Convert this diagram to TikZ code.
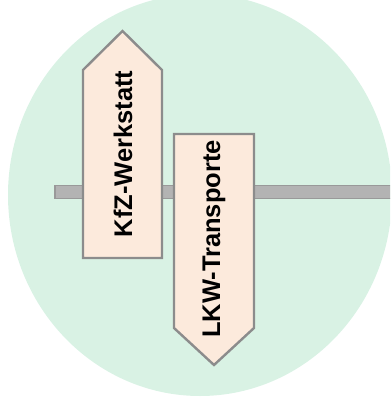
\documentclass[tikz,border=0pt]{standalone}
\usepackage{fontspec}
\setmainfont{Liberation Sans}
\definecolor{zonefill}{HTML}{D9F2E4}
\definecolor{barfill}{HTML}{B3B3B3}
\definecolor{barline}{HTML}{999999}
\definecolor{signfill}{HTML}{FCEADC}
\definecolor{signline}{HTML}{8C8C8C}
\tikzset{
  zone/.style={fill=zonefill, draw=none},
  rail/.style={fill=barfill, draw=barline, line width=1.2pt},
  sign/.style={fill=signfill, draw=signline, line width=2.4pt, line join=miter},
  signtext/.style={rotate=90, inner sep=0pt, font=\bfseries\fontsize{25.5}{29}\selectfont, text=black}
}
\begin{document}
\begin{tikzpicture}[x=1pt, y=-1pt]
  \useasboundingbox (0,0) rectangle (390,398);
  \clip (0,0) rectangle (390,398);
  % background zone
  \fill[zone] (200,195) ellipse [x radius=192, y radius=201];
  % horizontal rail
  \draw[rail] (55,185.5) rectangle (395,198.5);
  % sign pointing up
  \draw[sign] (83,258) -- (83,70) -- (122.5,31) -- (162,70) -- (162,258) -- cycle;
  \node[signtext] (kfz) at (123,154) {KfZ-Werkstatt};
  % sign pointing down
  \draw[sign] (174,134) -- (254,134) -- (254,328) -- (214,365) -- (174,328) -- cycle;
  \node[signtext] (lkw) at (214,239) {LKW-Transporte};
  % glyph fragment at the lower edge
  \draw[line width=3pt] (85,404) arc[start angle=180, end angle=0, x radius=7, y radius=7];
\end{tikzpicture}
\end{document}
